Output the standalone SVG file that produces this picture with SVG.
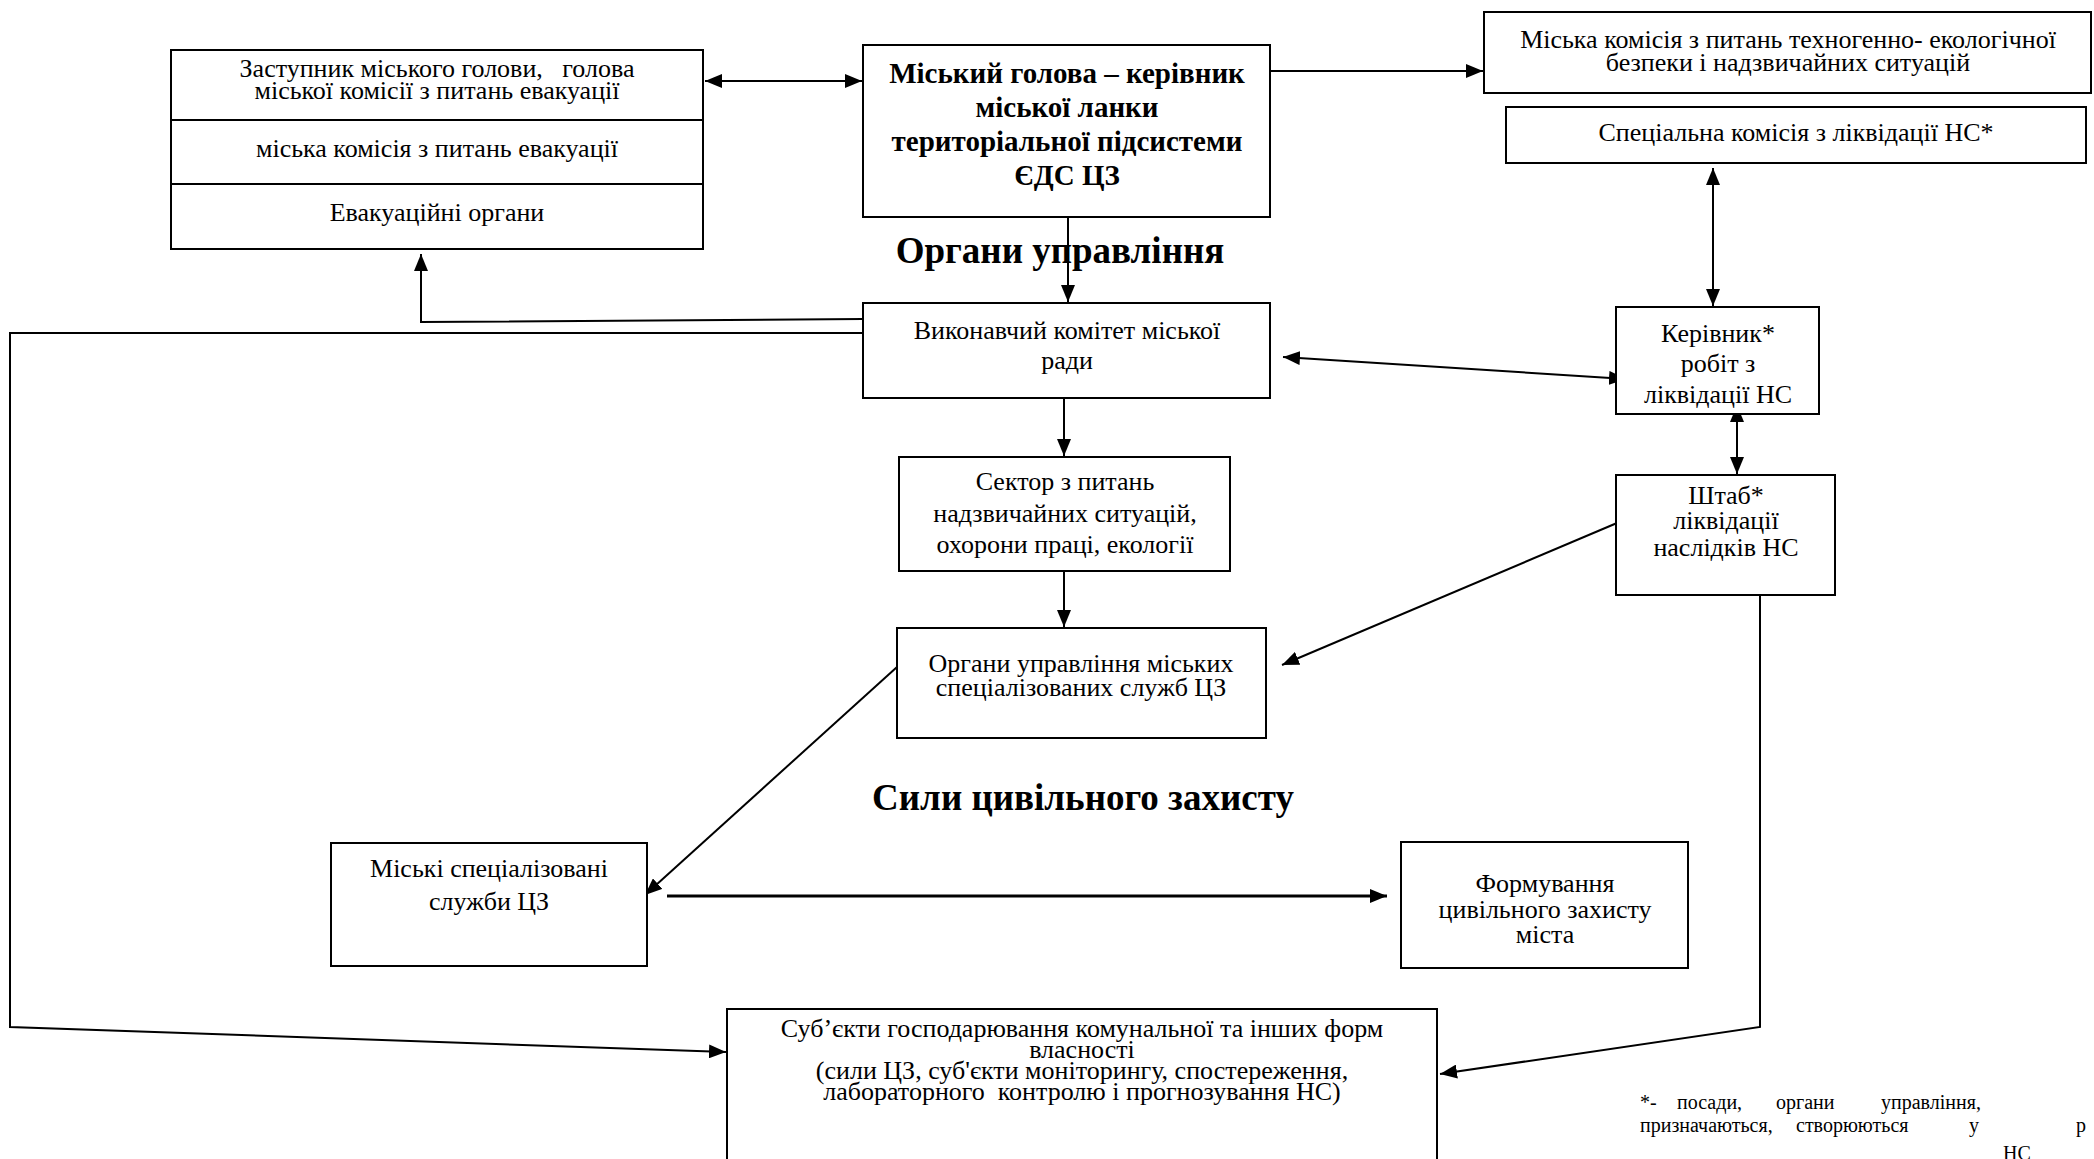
<svg xmlns="http://www.w3.org/2000/svg" width="2094" height="1159" viewBox="0 0 2094 1159">
<style>
.box{fill:#fff;stroke:#000;stroke-width:2}
.div{stroke:#000;stroke-width:2}
.t{font-family:"Liberation Serif","Times New Roman",serif;font-size:26px;fill:#000;text-anchor:middle}
.b{font-family:"Liberation Serif","Times New Roman",serif;font-size:29px;font-weight:bold;fill:#000;text-anchor:middle}
.h{font-family:"Liberation Serif","Times New Roman",serif;font-size:37px;font-weight:bold;fill:#000;text-anchor:middle}
.fn{font-family:"Liberation Serif","Times New Roman",serif;font-size:20px;fill:#000}
.c{fill:none;stroke:#000;stroke-width:2}
.c3{fill:none;stroke:#000;stroke-width:3}
</style>
<defs>
<marker id="ah" markerUnits="userSpaceOnUse" markerWidth="18" markerHeight="14" refX="17" refY="7" orient="auto-start-reverse">
<path d="M0,0 L17,7 L0,14 z" fill="#000"/>
</marker>
</defs>
<rect width="2094" height="1159" fill="#fff"/>

<g id="connectors">
<line class="c" x1="705" y1="81" x2="862" y2="81" marker-start="url(#ah)" marker-end="url(#ah)"/>
<line class="c" x1="1270" y1="71" x2="1483" y2="71" marker-end="url(#ah)"/>
<line class="c" x1="1068" y1="217" x2="1068" y2="302" marker-end="url(#ah)"/>
<polyline class="c" points="863,319 421,322 421,254" marker-end="url(#ah)"/>
<polyline class="c" points="863,333 10,333 10,1027 726,1052" marker-end="url(#ah)"/>
<line class="c" x1="1064" y1="398" x2="1064" y2="456" marker-end="url(#ah)"/>
<line class="c" x1="1064" y1="572" x2="1064" y2="627" marker-end="url(#ah)"/>
<line class="c" x1="1283" y1="357" x2="1626" y2="379" marker-start="url(#ah)" marker-end="url(#ah)"/>
<line class="c" x1="1713" y1="168" x2="1713" y2="306" marker-start="url(#ah)" marker-end="url(#ah)"/>
<line class="c" x1="1737" y1="405" x2="1737" y2="474" marker-start="url(#ah)" marker-end="url(#ah)"/>
<line class="c" x1="1617" y1="523" x2="1282" y2="665" marker-end="url(#ah)"/>
<polyline class="c" points="1760,595 1760,1027 1440,1074" marker-end="url(#ah)"/>
<line class="c" x1="897" y1="667" x2="645" y2="895" marker-end="url(#ah)"/>
<line class="c3" x1="667" y1="896" x2="1387" y2="896" marker-end="url(#ah)"/>
</g>

<g id="evac">
<rect class="box" x="171" y="50" width="532" height="199"/>
<line class="div" x1="171" y1="120" x2="703" y2="120"/>
<line class="div" x1="171" y1="184" x2="703" y2="184"/>
<text class="t" x="437" y="77" xml:space="preserve">Заступник міського голови,   голова</text>
<text class="t" x="437" y="99">міської комісії з питань евакуації</text>
<text class="t" x="437" y="157">міська комісія з питань евакуації</text>
<text class="t" x="437" y="221">Евакуаційні органи</text>
</g>

<g id="mayor">
<rect class="box" x="863" y="45" width="407" height="172"/>
<text class="b" x="1067" y="83">Міський голова – керівник</text>
<text class="b" x="1067" y="117">міської ланки</text>
<text class="b" x="1067" y="151">територіальної підсистеми</text>
<text class="b" x="1067" y="185">ЄДС ЦЗ</text>
</g>

<text id="title-organy" class="h" x="1060" y="263">Органи управління</text>

<g id="commission-tech">
<rect class="box" x="1484" y="12" width="607" height="81"/>
<text class="t" x="1788" y="48">Міська комісія з питань техногенно- екологічної</text>
<text class="t" x="1788" y="71">безпеки і надзвичайних ситуацій</text>
</g>

<g id="special-commission">
<rect class="box" x="1506" y="107" width="580" height="56"/>
<text class="t" x="1796" y="141">Спеціальна комісія з ліквідації НС*</text>
</g>

<g id="executive">
<rect class="box" x="863" y="303" width="407" height="95"/>
<text class="t" x="1067" y="339">Виконавчий комітет міської</text>
<text class="t" x="1067" y="369">ради</text>
</g>

<g id="head">
<rect class="box" x="1616" y="307" width="203" height="107"/>
<text class="t" x="1718" y="342">Керівник*</text>
<text class="t" x="1718" y="372">робіт з</text>
<text class="t" x="1718" y="403">ліквідації НС</text>
</g>

<g id="sector">
<rect class="box" x="899" y="457" width="331" height="114"/>
<text class="t" x="1065" y="490">Сектор з питань</text>
<text class="t" x="1065" y="522">надзвичайних ситуацій,</text>
<text class="t" x="1065" y="553">охорони праці, екології</text>
</g>

<g id="staff">
<rect class="box" x="1616" y="475" width="219" height="120"/>
<text class="t" x="1726" y="504">Штаб*</text>
<text class="t" x="1726" y="529">ліквідації</text>
<text class="t" x="1726" y="556">наслідків НС</text>
</g>

<g id="services-mgmt">
<rect class="box" x="897" y="628" width="369" height="110"/>
<text class="t" x="1081" y="672">Органи управління міських</text>
<text class="t" x="1081" y="696">спеціалізованих служб ЦЗ</text>
</g>

<text id="title-forces" class="h" x="1083" y="810">Сили цивільного захисту</text>

<g id="services">
<rect class="box" x="331" y="843" width="316" height="123"/>
<text class="t" x="489" y="877">Міські спеціалізовані</text>
<text class="t" x="489" y="910">служби ЦЗ</text>
</g>

<g id="formations">
<rect class="box" x="1401" y="842" width="287" height="126"/>
<text class="t" x="1545" y="892">Формування</text>
<text class="t" x="1545" y="918">цивільного захисту</text>
<text class="t" x="1545" y="943">міста</text>
</g>

<g id="entities">
<rect class="box" x="727" y="1009" width="710" height="170"/>
<text class="t" x="1082" y="1037">Суб’єкти господарювання комунальної та інших форм</text>
<text class="t" x="1082" y="1058">власності</text>
<text class="t" x="1082" y="1079">(сили ЦЗ, суб'єкти моніторингу, спостереження,</text>
<text class="t" x="1082" y="1100" xml:space="preserve">лабораторного  контролю і прогнозування НС)</text>
</g>

<g id="footnote">
<text class="fn" y="1109"><tspan x="1640">*-</tspan><tspan x="1677">посади,</tspan><tspan x="1776">органи</tspan><tspan x="1881">управління,</tspan></text>
<text class="fn" y="1132"><tspan x="1640">призначаються,</tspan><tspan x="1796">створюються</tspan><tspan x="1969">у</tspan><tspan x="2076">р</tspan></text>
<text class="fn" x="2003" y="1160">НС</text>
</g>
</svg>
